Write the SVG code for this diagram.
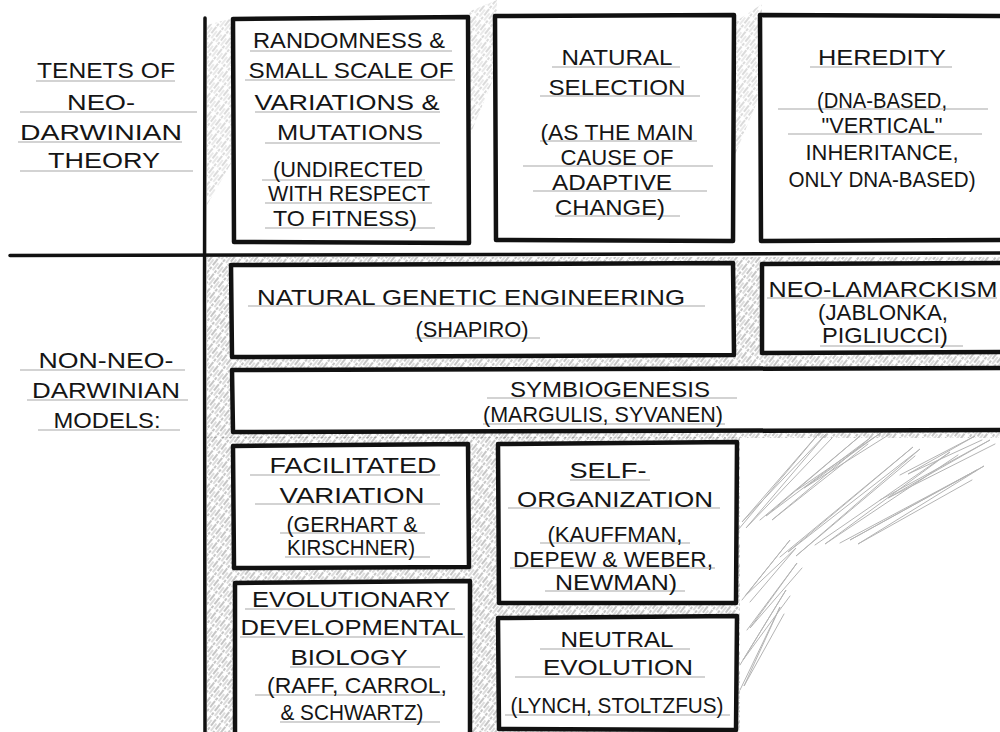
<svg xmlns="http://www.w3.org/2000/svg" width="1000" height="732" viewBox="0 0 1000 732">
<defs>
<pattern id="hatch" patternUnits="userSpaceOnUse" width="6" height="14" patternTransform="rotate(38)">
<line x1="1" y1="0" x2="1" y2="14" stroke="#6f6f6f" stroke-width="1" stroke-dasharray="8 2 3 1"/>
<line x1="4" y1="3" x2="4" y2="12" stroke="#929292" stroke-width="0.8"/>
</pattern>
<style>
.box{fill:#fff;stroke:#111;stroke-width:4.5;stroke-linejoin:round}
.t{font-family:"Liberation Sans",Arial,sans-serif;font-size:22px;fill:#151515;text-anchor:middle}
.u{stroke:#a8a8a8;stroke-width:1.1;fill:none}
.div{stroke:#111;stroke-width:3.5;fill:none;stroke-linecap:round}
.scr{stroke:#b4b4b4;stroke-width:1;fill:none;stroke-linejoin:round;stroke-linecap:round}
</style>
</defs>
<rect width="1000" height="732" fill="#fff"/>

<g id="hatching">
<rect x="207" y="257" width="793" height="181" fill="url(#hatch)" opacity="0.8"/>
<rect x="207" y="437" width="533" height="295" fill="url(#hatch)" opacity="0.8"/>
<path d="M207,25 L233,18 L233,160 L207,205 Z" fill="url(#hatch)" opacity="0.5"/>
<path d="M468,12 L497,0 L497,70 L468,140 Z" fill="url(#hatch)" opacity="0.5"/>
<path d="M735,22 L762,4 L762,90 L735,155 Z" fill="url(#hatch)" opacity="0.5"/>
<path class="scr" d="M738,530 L820,432 L742,522 L826,434 L746,528 L832,438"/>
<path class="scr" d="M760,520 L860,436 L766,516 L870,438 L772,520 L868,444"/>
<path class="scr" d="M797,490 L882,432 L804,488 L890,434"/>
<path class="scr" d="M780,557 L913,447 L788,552 L920,449 L796,556 L915,456"/>
<path class="scr" d="M815,545 L950,452 L825,544 L958,455"/>
<path class="scr" d="M840,543 L977,470 L850,540 L984,466 L858,544 L972,480"/>
<path class="scr" d="M880,500 L990,440 L888,498 L995,444"/>
<path class="scr" d="M900,475 L975,436 L908,474 L982,440"/>
<path class="scr" d="M742,600 L790,540 L745,596 L796,548 L750,602"/>
<path class="scr" d="M747,630 L797,563 L750,628 L802,568"/>
<path class="scr" d="M740,665 L786,590 L743,660 L790,596"/>
<path class="scr" d="M740,690 L780,607 L744,686 L784,614"/>
</g>

<g id="dividers">
<path class="div" d="M205,18 L204.5,300 L205,732"/>
<path class="div" d="M10,255.5 L500,254.5 L1000,253"/>
</g>

<g id="label-tenets">
<path class="u" d="M36,81 L175,81 M20,112 L197,112 M18,142 L182,142 M20,171 L193,171"/>
<text class="t" x="106" y="78" textLength="138" lengthAdjust="spacingAndGlyphs">TENETS OF</text>
<text class="t" x="101" y="110" textLength="68" lengthAdjust="spacingAndGlyphs">NEO-</text>
<text class="t" x="101" y="140" textLength="162" lengthAdjust="spacingAndGlyphs">DARWINIAN</text>
<text class="t" x="104" y="168" textLength="112" lengthAdjust="spacingAndGlyphs">THEORY</text>
</g>

<g id="label-non-neo">
<path class="u" d="M20,370 L185,370 M27,400 L188,400 M38,430 L180,430"/>
<text class="t" x="106" y="368" textLength="135" lengthAdjust="spacingAndGlyphs">NON-NEO-</text>
<text class="t" x="106" y="398" textLength="148" lengthAdjust="spacingAndGlyphs">DARWINIAN</text>
<text class="t" x="107" y="428" textLength="107" lengthAdjust="spacingAndGlyphs">MODELS:</text>
</g>

<g id="n-randomness">
<path class="box" d="M233,19 L468,17 L469,243 L234,242 Z"/>
<path class="u" d="M250,51 L452,51 M245,80 L455,80 M255,112 L440,112 M265,143 L440,143 M262,180 L425,180 M265,203 L432,203 M265,228 L435,228"/>
<text class="t" x="349" y="48" textLength="192" lengthAdjust="spacingAndGlyphs">RANDOMNESS &amp;</text>
<text class="t" x="351" y="78" textLength="205" lengthAdjust="spacingAndGlyphs">SMALL SCALE OF</text>
<text class="t" x="347" y="110" textLength="185" lengthAdjust="spacingAndGlyphs">VARIATIONS &amp;</text>
<text class="t" x="350" y="140" textLength="146" lengthAdjust="spacingAndGlyphs">MUTATIONS</text>
<text class="t" x="348" y="177" textLength="150" lengthAdjust="spacingAndGlyphs">(UNDIRECTED</text>
<text class="t" x="349" y="201" textLength="162" lengthAdjust="spacingAndGlyphs">WITH RESPECT</text>
<text class="t" x="345" y="226" textLength="144" lengthAdjust="spacingAndGlyphs">TO FITNESS)</text>
</g>

<g id="n-selection">
<path class="box" d="M495,16 L734,15 L733,241 L496,240 Z"/>
<path class="u" d="M552,67 L680,67 M540,96 L700,96 M540,141 L697,141 M523,166 L713,166 M533,191 L707,191 M555,216 L680,216"/>
<text class="t" x="617" y="65" textLength="111" lengthAdjust="spacingAndGlyphs">NATURAL</text>
<text class="t" x="617" y="95" textLength="137" lengthAdjust="spacingAndGlyphs">SELECTION</text>
<text class="t" x="617" y="140" textLength="153" lengthAdjust="spacingAndGlyphs">(AS THE MAIN</text>
<text class="t" x="617" y="165" textLength="113" lengthAdjust="spacingAndGlyphs">CAUSE OF</text>
<text class="t" x="612" y="190" textLength="120" lengthAdjust="spacingAndGlyphs">ADAPTIVE</text>
<text class="t" x="610" y="215" textLength="110" lengthAdjust="spacingAndGlyphs">CHANGE)</text>
</g>

<g id="n-heredity">
<path class="box" d="M1004,16 L760,15 L761,241 L1004,240"/>
<path class="u" d="M810,67 L952,67 M778,109 L988,109 M788,134 L982,134"/>
<text class="t" x="882" y="65" textLength="128" lengthAdjust="spacingAndGlyphs">HEREDITY</text>
<text class="t" x="882" y="108" textLength="130" lengthAdjust="spacingAndGlyphs">(DNA-BASED,</text>
<text class="t" x="882" y="133" textLength="121" lengthAdjust="spacingAndGlyphs">"VERTICAL"</text>
<text class="t" x="882" y="160" textLength="153" lengthAdjust="spacingAndGlyphs">INHERITANCE,</text>
<text class="t" x="882" y="187" textLength="187" lengthAdjust="spacingAndGlyphs">ONLY DNA-BASED)</text>
</g>

<g id="n-genetic-engineering">
<path class="box" d="M231,265 L733,263 L734,355 L232,357 Z"/>
<path class="u" d="M248,306 L705,306 M415,338 L540,338"/>
<text class="t" x="471" y="305" textLength="428" lengthAdjust="spacingAndGlyphs">NATURAL GENETIC ENGINEERING</text>
<text class="t" x="472" y="337" textLength="113" lengthAdjust="spacingAndGlyphs">(SHAPIRO)</text>
</g>

<g id="n-neo-lamarckism">
<path class="box" d="M1004,263 L762,264 L762,353 L1004,352"/>
<path class="u" d="M767,298 L997,298 M820,346 L963,346"/>
<text class="t" x="883" y="297" textLength="229" lengthAdjust="spacingAndGlyphs">NEO-LAMARCKISM</text>
<text class="t" x="883" y="320" textLength="130" lengthAdjust="spacingAndGlyphs">(JABLONKA,</text>
<text class="t" x="885" y="343" textLength="126" lengthAdjust="spacingAndGlyphs">PIGLIUCCI)</text>
</g>

<g id="n-symbiogenesis">
<path class="box" d="M1004,368 L232,370 L233,432 L1004,430"/>
<path class="u" d="M487,398 L737,398 M483,424 L725,424"/>
<text class="t" x="610" y="397" textLength="200" lengthAdjust="spacingAndGlyphs">SYMBIOGENESIS</text>
<text class="t" x="603" y="422" textLength="240" lengthAdjust="spacingAndGlyphs">(MARGULIS, SYVANEN)</text>
</g>

<g id="n-facilitated">
<path class="box" d="M233,446 L468,444 L469,567 L234,568 Z"/>
<path class="u" d="M250,475 L440,475 M255,504 L440,504 M280,533 L425,533 M285,557 L430,557"/>
<text class="t" x="353" y="473" textLength="167" lengthAdjust="spacingAndGlyphs">FACILITATED</text>
<text class="t" x="352" y="503" textLength="145" lengthAdjust="spacingAndGlyphs">VARIATION</text>
<text class="t" x="352" y="532" textLength="131" lengthAdjust="spacingAndGlyphs">(GERHART &amp;</text>
<text class="t" x="351" y="555" textLength="128" lengthAdjust="spacingAndGlyphs">KIRSCHNER)</text>
</g>

<g id="n-evo-devo">
<path class="box" d="M235,736 L235,583 L470,581 L470,736"/>
<path class="u" d="M245,609 L455,609 M240,637 L465,637 M290,667 L440,667 M255,695 L445,695 M280,722 L440,722"/>
<text class="t" x="351" y="607" textLength="198" lengthAdjust="spacingAndGlyphs">EVOLUTIONARY</text>
<text class="t" x="352" y="635" textLength="223" lengthAdjust="spacingAndGlyphs">DEVELOPMENTAL</text>
<text class="t" x="349" y="665" textLength="117" lengthAdjust="spacingAndGlyphs">BIOLOGY</text>
<text class="t" x="357" y="693" textLength="180" lengthAdjust="spacingAndGlyphs">(RAFF, CARROL,</text>
<text class="t" x="352" y="720" textLength="143" lengthAdjust="spacingAndGlyphs">&amp; SCHWARTZ)</text>
</g>

<g id="n-self-organization">
<path class="box" d="M498,444 L737,442 L736,603 L499,603 Z"/>
<path class="u" d="M570,480 L650,480 M508,508 L720,508 M540,543 L690,543 M510,568 L715,568 M545,591 L685,591"/>
<text class="t" x="608" y="478" textLength="77" lengthAdjust="spacingAndGlyphs">SELF-</text>
<text class="t" x="615" y="507" textLength="196" lengthAdjust="spacingAndGlyphs">ORGANIZATION</text>
<text class="t" x="615" y="542" textLength="135" lengthAdjust="spacingAndGlyphs">(KAUFFMAN,</text>
<text class="t" x="613" y="567" textLength="200" lengthAdjust="spacingAndGlyphs">DEPEW &amp; WEBER,</text>
<text class="t" x="616" y="590" textLength="122" lengthAdjust="spacingAndGlyphs">NEWMAN)</text>
</g>

<g id="n-neutral">
<path class="box" d="M498,618 L737,616 L736,730 L499,729 Z"/>
<path class="u" d="M540,649 L690,649 M515,677 L705,677 M505,715 L730,715"/>
<text class="t" x="617" y="647" textLength="113" lengthAdjust="spacingAndGlyphs">NEUTRAL</text>
<text class="t" x="618" y="675" textLength="150" lengthAdjust="spacingAndGlyphs">EVOLUTION</text>
<text class="t" x="617" y="713" textLength="213" lengthAdjust="spacingAndGlyphs">(LYNCH, STOLTZFUS)</text>
</g>
</svg>
